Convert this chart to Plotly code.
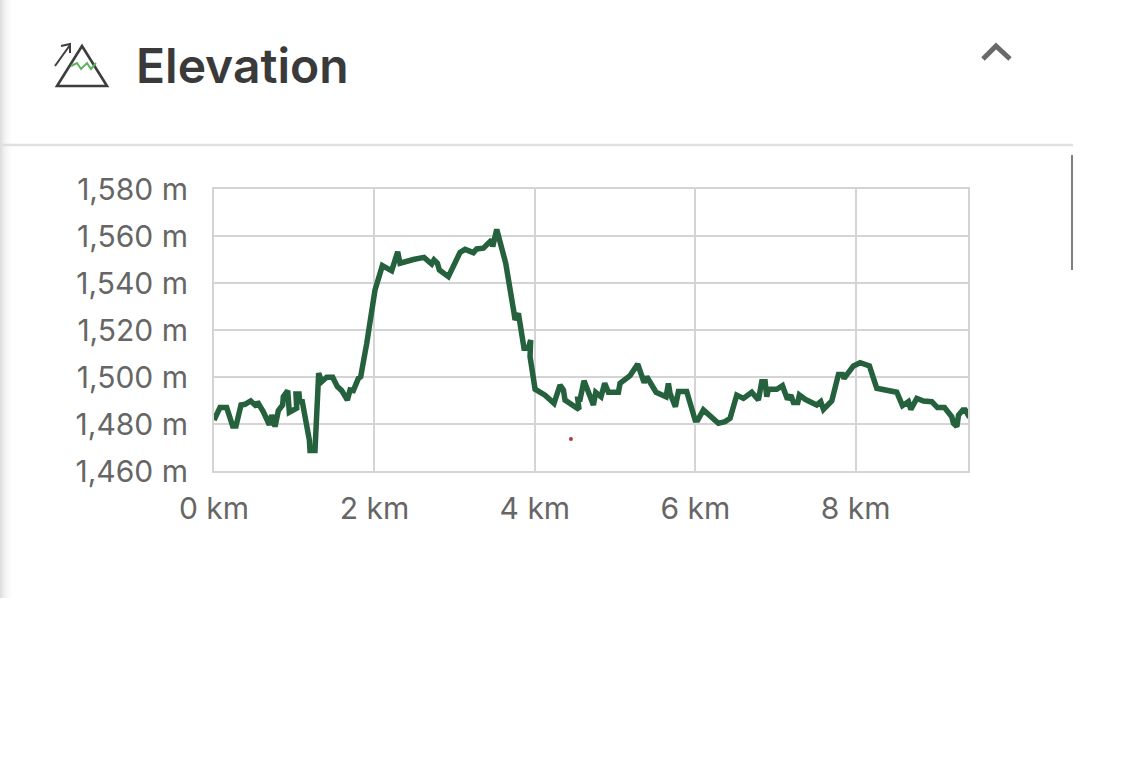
import plotly.graph_objects as go

W, H = 1142, 761

distance_km = [0.00,0.075,0.158,0.233,0.274,0.337,0.387,0.457,0.532,0.540,0.615,0.690,0.719,0.761,0.802,0.856,0.864,0.919,0.939,1.031,1.022,1.06,1.068,1.101,1.189,1.197,1.259,1.305,1.342,1.405,1.480,1.538,1.592,1.663,1.696,1.737,1.800,1.829,1.904,1.966,2.007,2.099,2.215,2.290,2.319,2.485,2.618,2.714,2.743,2.785,2.810,2.922,3.067,3.130,3.234,3.275,3.358,3.462,3.475,3.525,3.637,3.741,3.753,3.795,3.865,3.919,3.948,3.940,4.003,4.127,4.239,4.314,4.356,4.376,4.551,4.535,4.564,4.613,4.730,4.759,4.825,4.871,4.917,5.042,5.062,5.187,5.283,5.362,5.395,5.511,5.636,5.665,5.686,5.752,5.790,5.893,5.977,5.998,6.031,6.101,6.288,6.371,6.434,6.517,6.600,6.704,6.787,6.829,6.871,6.891,6.912,7.016,7.087,7.149,7.191,7.224,7.278,7.298,7.369,7.514,7.564,7.598,7.702,7.785,7.835,7.855,7.972,8.055,8.171,8.263,8.512,8.583,8.657,8.687,8.762,8.845,8.949,9.019,9.107,9.198,9.219,9.261,9.282,9.336,9.365,9.419]
elevation_m = [1481.7,1487,1487,1479.1,1479.1,1488.1,1488.4,1489.8,1487.4,1489.5,1485.2,1479.6,1483.8,1478.9,1485.7,1488.1,1491.6,1494.2,1485,1486.7,1492.8,1492.8,1489.5,1489.5,1473.2,1468.7,1468.7,1501.6,1498,1499.9,1499.9,1495.9,1494.2,1490.2,1494.5,1494.2,1499.4,1500.1,1514.3,1527.1,1537,1547.4,1545.2,1553.3,1548.4,1550,1550.9,1548.1,1549.8,1548.4,1545.5,1542.7,1553,1554.3,1552.9,1554.5,1554.8,1558.3,1555.5,1562.8,1548.4,1527.1,1524.3,1527.1,1512.2,1512.2,1515.7,1508.7,1494.8,1492.3,1488.8,1496.6,1494.5,1490.2,1486.2,1490.5,1490.5,1498.4,1488.1,1493.5,1491.6,1497.3,1493.5,1493.5,1497.3,1500.6,1505.5,1497.6,1500.1,1493.5,1491.6,1497.3,1493,1487.4,1493.8,1493.8,1485.2,1481.7,1481.7,1486,1480.3,1481,1482.4,1492.3,1490.9,1493.5,1490.2,1498,1498,1491.6,1494.8,1494.8,1496.3,1490.5,1492.3,1489.2,1489.2,1492.3,1490.5,1488.1,1489.5,1486.2,1489.8,1501.1,1501.1,1499.4,1504.7,1506.1,1504.7,1495.2,1493.5,1487.8,1489.5,1486.2,1490.9,1489.8,1489.5,1487,1487,1483.1,1480.3,1478.9,1483.8,1486,1486,1482.8]
stray_km = [4.45]
stray_m = [1473.6]

y_ticks = [1460, 1480, 1500, 1520, 1540, 1560, 1580]
y_labels = ["1,460 m", "1,480 m", "1,500 m", "1,520 m", "1,540 m", "1,560 m", "1,580 m"]
x_ticks = [0, 2, 4, 6, 8]
x_labels = ["0 km", "2 km", "4 km", "6 km", "8 km"]
title_text = "Elevation"

GRID = "#d4d4d4"
LINE = "#24613c"
TICK = "#666666"


def px(x):
    return x / W


def py(y):
    return 1 - y / H


def path(points, close=False):
    s = "M " + " L ".join(f"{px(a):.5f},{py(b):.5f}" for a, b in points)
    return s + (" Z" if close else "")


shapes = []
# left page shadow
for i, c in enumerate(["#dedede", "#e3e3e3", "#e8e8e8", "#ececec", "#f0f0f0", "#f3f3f3", "#f6f6f6", "#f8f8f8", "#fafafa", "#fbfbfb", "#fdfdfd", "#fefefe"]):
    shapes.append(dict(type="rect", xref="paper", yref="paper", x0=px(i), x1=px(i + 1), y0=py(598), y1=1,
                       fillcolor=c, line_width=0, layer="below"))


def stroke(points, color, width, close=False):
    shapes.append(dict(type="path", xref="paper", yref="paper", path=path(points, close),
                       line=dict(color=color, width=width)))


stroke([(0, 145), (1073, 145)], "#e0e0e0", 2.5)
stroke([(1072, 155), (1072, 270)], "#808080", 2)
stroke([(983, 59), (996, 46), (1010, 59)], "#6a6a6a", 5)
# icon
stroke([(82, 46), (107, 86), (57, 86)], "#3d3d3d", 2.6, True)
stroke([(55, 66), (70, 45)], "#3d3d3d", 2)
stroke([(61, 46), (70, 44), (70, 53)], "#3d3d3d", 2)
stroke([(71, 66), (77, 63), (81, 69), (87, 63), (91, 69), (96, 63)], "#5fb35f", 2)

fig = go.Figure()
fig.add_trace(go.Scatter(x=distance_km, y=elevation_m, mode="lines", cliponaxis=False,
                         line=dict(color=LINE, width=5.5, shape="linear"), showlegend=False))
fig.add_trace(go.Scatter(x=stray_km, y=stray_m, mode="markers", cliponaxis=False,
                         marker=dict(color="#b03a3a", size=4), showlegend=False))

fig.update_layout(
    width=W, height=H, margin=dict(l=0, r=0, t=0, b=0),
    paper_bgcolor="white", plot_bgcolor="white",
    font=dict(family="Inter, sans-serif", color=TICK, size=30),
    shapes=shapes,
    xaxis=dict(domain=[px(214), px(968)], range=[0, 9.40], tickmode="array", tickvals=x_ticks, ticktext=x_labels,
               automargin=False,
               showgrid=True, gridcolor=GRID, gridwidth=2, showline=True, linecolor=GRID, linewidth=2, mirror=True,
               zeroline=False, ticks="", ticklabelstandoff=10, tickfont=dict(size=30, color=TICK)),
    yaxis=dict(domain=[py(471), py(189)], range=[1460, 1580], tickmode="array", tickvals=y_ticks, ticktext=y_labels,
               automargin=False,
               showgrid=True, gridcolor=GRID, gridwidth=2, showline=True, linecolor=GRID, linewidth=2, mirror=True,
               zeroline=False, ticks="", ticklabelstandoff=18, tickfont=dict(size=30, color=TICK)),
    annotations=[dict(text=title_text, xref="paper", yref="paper", x=px(134), y=py(66), xanchor="left", yanchor="middle",
                      showarrow=False, font=dict(family="Inter, sans-serif", size=48, color="#3a3a3a", weight=600))],
)

fig.write_html("out.html", config=dict(displayModeBar=False), post_script="document.body.style.margin='0';")
